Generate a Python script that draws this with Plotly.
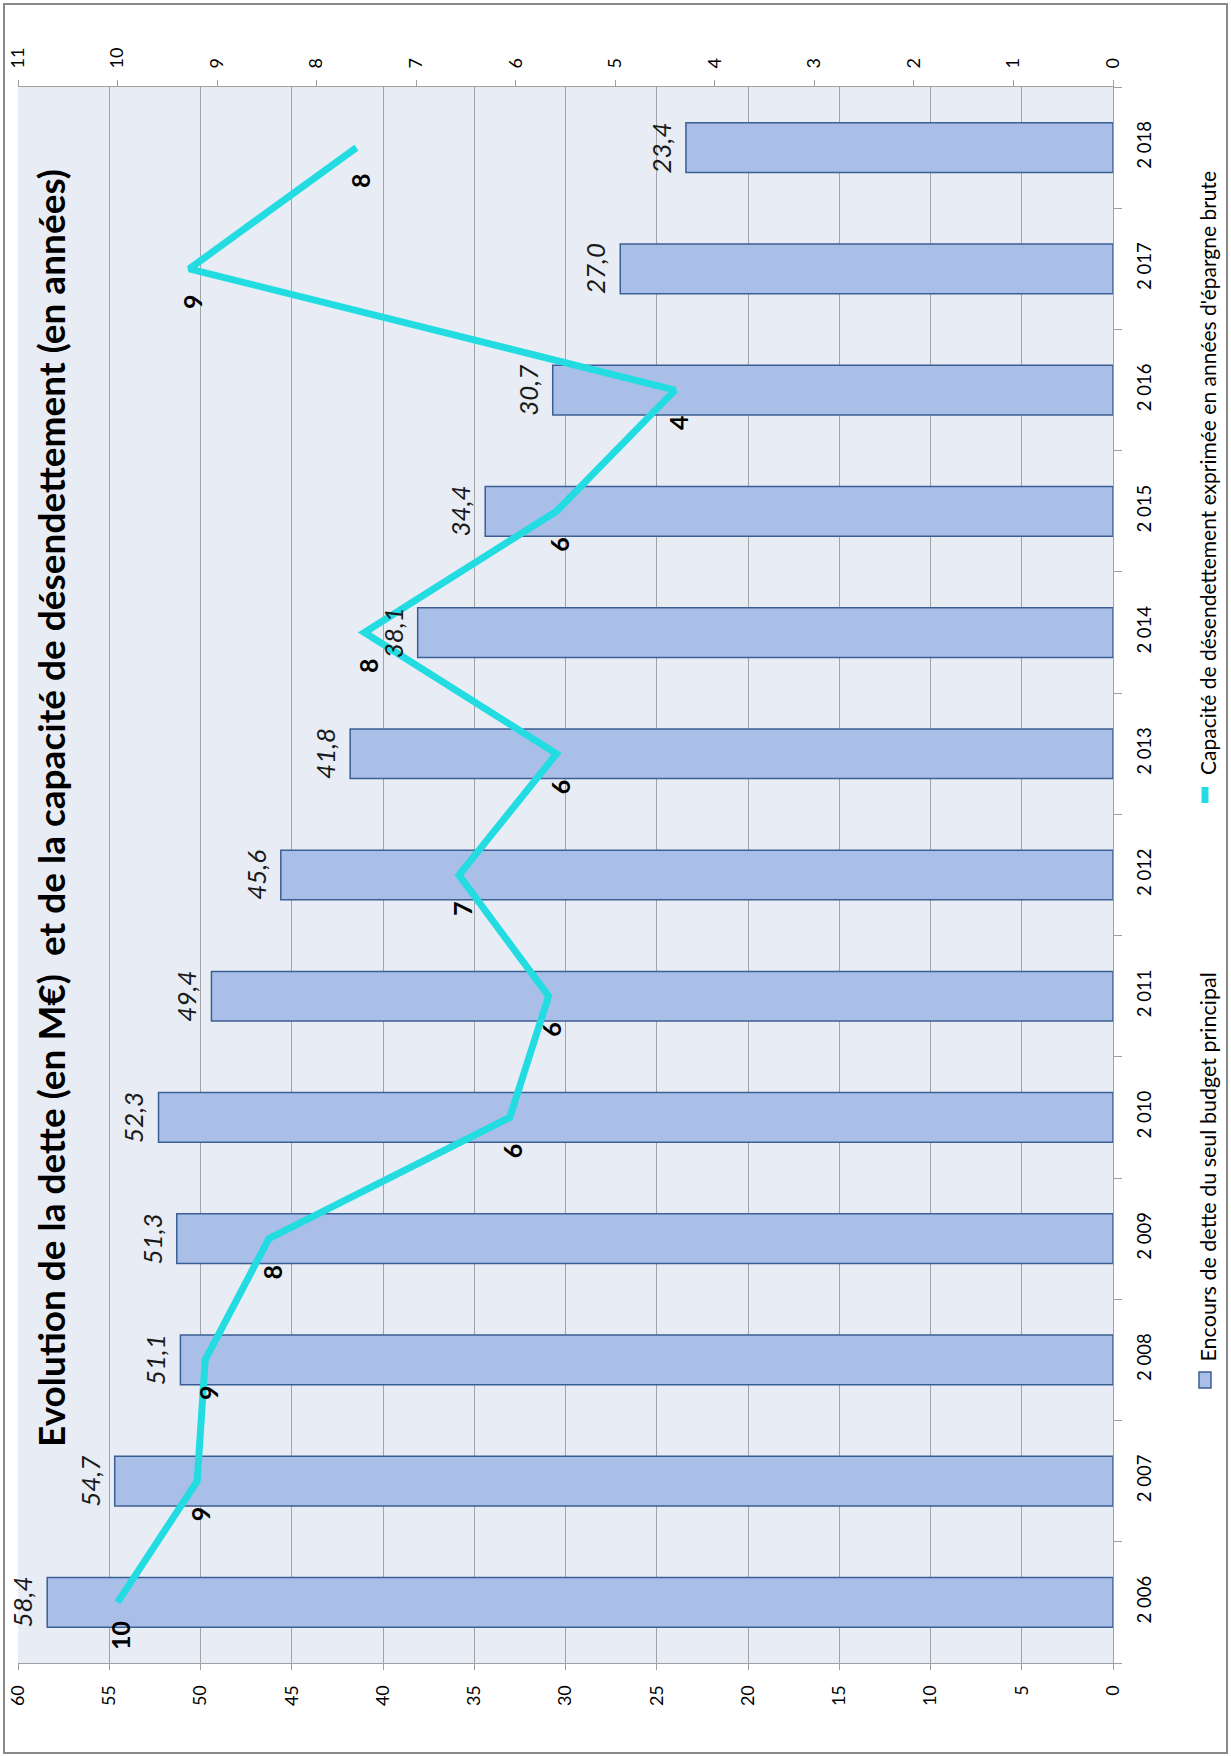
import plotly.graph_objects as go

# ---------------- data ----------------
years = ["2 006", "2 007", "2 008", "2 009", "2 010", "2 011", "2 012",
         "2 013", "2 014", "2 015", "2 016", "2 017", "2 018"]
dette = [58.4, 54.7, 51.1, 51.3, 52.3, 49.4, 45.6, 41.8, 38.1, 34.4, 30.7, 27.0, 23.4]
dette_labels = ["58,4", "54,7", "51,1", "51,3", "52,3", "49,4", "45,6",
                "41,8", "38,1", "34,4", "30,7", "27,0", "23,4"]
capacite = [10.0, 9.2, 9.12, 8.48, 6.06, 5.67, 6.57, 5.59, 7.52, 5.59, 4.40, 9.28, 7.6]
capacite_labels = ["10", "9", "9", "8", "6", "6", "7", "6", "8", "6", "4", "9", "8"]
dette_ticks = list(range(0, 61, 5))
capa_ticks = list(range(0, 12))

title_text = "Evolution de la dette (en M€)  et de la capacité de désendettement (en années)"
legend_bar = "Encours de dette du seul budget principal"
legend_line = "Capacité de désendettement exprimée en années d'épargne brute"

# ---------------- geometry ----------------
W, H = 1231, 1756
L, R, T, B = 18, 118, 87, 93
PW, PH = W - L - R, H - T - B


def px(x):
    return (x - L) / PW


def py(y):
    return (H - B - y) / PH


FONT = "Lato, 'Open Sans', sans-serif"
BAR_FILL = "#A9BFE8"
BAR_LINE = "#3B5F93"
CYAN = "#22DCE2"

fig = go.Figure()

fig.add_trace(go.Bar(
    x=dette, y=years, orientation="h",
    marker=dict(color=BAR_FILL, line=dict(color=BAR_LINE, width=1.5)),
    xaxis="x", yaxis="y", name=legend_bar, hoverinfo="skip",
))

fig.add_trace(go.Scatter(
    x=capacite, y=years, mode="lines",
    line=dict(color=CYAN, width=7),
    xaxis="x2", yaxis="y", name=legend_line, hoverinfo="skip",
))

annotations = []
for v, yv, lab in zip(dette, years, dette_labels):
    annotations.append(dict(
        x=v, y=yv, xref="x", yref="y", text=lab, showarrow=False,
        textangle=-90, xanchor="right", yanchor="middle", xshift=-7,
        font=dict(family=FONT, size=26, color="#1a1a1a", style="italic"),
    ))
for v, yv, lab in zip(capacite, years, capacite_labels):
    annotations.append(dict(
        x=v, y=yv, xref="x2", yref="y", text="<b>" + lab + "</b>", showarrow=False,
        textangle=-90, xanchor="center", yanchor="middle", xshift=3, yshift=-33,
        font=dict(family=FONT, size=25, color="#000000"),
    ))

# title (rotated, inside plot area)
annotations.append(dict(
    x=px(50), y=py(808), xref="paper", yref="paper", text="<b>" + title_text + "</b>",
    showarrow=False, textangle=-90, xanchor="center", yanchor="middle",
    font=dict(family=FONT, size=37, color="#000000"),
))

# legend texts (rotated)
annotations.append(dict(
    x=px(1207), y=py(1364), xref="paper", yref="paper", text=legend_bar,
    showarrow=False, textangle=-90, xanchor="center", yanchor="bottom",
    font=dict(family=FONT, size=21.5, color="#000000"),
))
annotations.append(dict(
    x=px(1207), y=py(777), xref="paper", yref="paper", text=legend_line,
    showarrow=False, textangle=-90, xanchor="center", yanchor="bottom",
    font=dict(family=FONT, size=21, color="#000000"),
))

shapes = [
    # outer frame
    dict(type="rect", xref="paper", yref="paper",
         x0=px(4), x1=px(1227), y0=py(1753), y1=py(4),
         line=dict(color="#8A8A8A", width=2), fillcolor="rgba(0,0,0,0)", layer="below"),
    # legend swatch: bar
    dict(type="rect", xref="paper", yref="paper",
         x0=px(1199), x1=px(1211), y0=py(1388), y1=py(1372),
         line=dict(color=BAR_LINE, width=1.5), fillcolor=BAR_FILL),
    # legend swatch: line
    dict(type="line", xref="paper", yref="paper",
         x0=px(1205), x1=px(1205), y0=py(803), y1=py(787),
         line=dict(color=CYAN, width=7)),
]

fig.update_layout(
    width=W, height=H,
    margin=dict(l=L, r=R, t=T, b=B, autoexpand=False),
    paper_bgcolor="white", plot_bgcolor="#E8EDF5",
    template="none", showlegend=False, bargap=0.59,
    font=dict(family=FONT, color="#000000"),
    annotations=annotations, shapes=shapes,
    xaxis=dict(
        range=[60, 0], tickvals=dette_ticks, ticktext=[str(t) for t in dette_ticks],
        side="bottom", tickangle=-90, ticks="outside", ticklen=6, tickcolor="#A0A0A0",
        ticklabelstandoff=8,
        showgrid=True, gridcolor="#A3A3A3", gridwidth=1, zeroline=False,
        showline=True, linecolor="#A0A0A0", linewidth=1,
        tickfont=dict(family=FONT, size=18, color="#000000"), automargin=False,
    ),
    xaxis2=dict(
        range=[11, 0], tickvals=capa_ticks, ticktext=[str(t) for t in capa_ticks],
        overlaying="x", side="top", anchor="y", tickangle=-90, ticks="outside", ticklen=6,
        tickcolor="#A0A0A0", ticklabelstandoff=8,
        showgrid=False, zeroline=False, showline=True, linecolor="#A0A0A0", linewidth=1,
        tickfont=dict(family=FONT, size=18, color="#000000"), automargin=False,
    ),
    yaxis=dict(
        type="category", categoryorder="array", categoryarray=years,
        range=[-0.5, len(years) - 0.5],
        side="right", tickangle=-90, ticks="outside", tickson="boundaries", ticklen=8,
        tickcolor="#A0A0A0", ticklabelstandoff=15,
        showgrid=False, zeroline=False, showline=True, linecolor="#A0A0A0", linewidth=1,
        tickfont=dict(family=FONT, size=18.5, color="#000000"), automargin=False,
    ),
)

fig.write_html("out.html")
